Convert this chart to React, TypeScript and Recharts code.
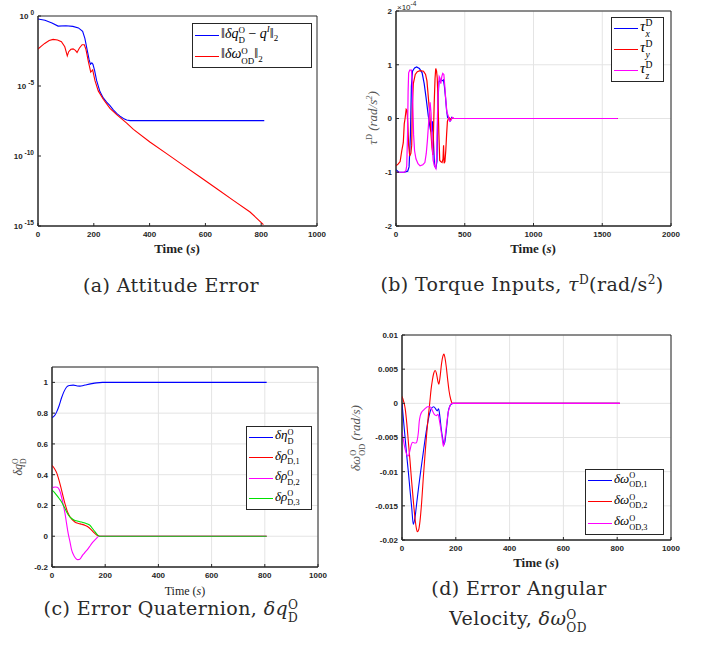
import React from "react";
import { LineChart, Line, XAxis, YAxis, CartesianGrid, ReferenceArea } from "recharts";

const SERIF = '"Liberation Serif", "DejaVu Serif", serif';
const CAP = '"DejaVu Serif", "Liberation Serif", serif';
const SANS = '"Liberation Sans", Arial, sans-serif';
const AXIS = "#262626";
const GRID = "#e4e4e4";
const BLUE = "#0000ff";
const RED = "#ff0000";
const MAG = "#ff00ff";
const GREEN = "#00e000";
// frame letters (calligraphic O and D in the original)
const FO = "O";
const FD = "D";

type Pt = [number, number];

// (a) attitude error, log10 of the norms
const errQLog: Pt[] = [
  [0, -0.21], [25, -0.3], [50, -0.5], [72, -0.72], [100, -0.7], [125, -0.74], [145, -0.85],
  [160, -1.1], [168, -1.6], [176, -2.4], [183, -3.1], [188, -3.45], [193, -3.35], [197, -3.45],
  [203, -3.9], [210, -4.6], [222, -5.4], [234, -5.85], [246, -6.15], [258, -6.4], [270, -6.7],
  [282, -6.95], [294, -7.15], [306, -7.32], [318, -7.43], [330, -7.47], [811, -7.47],
];
const errWLog: Pt[] = [
  [0, -2.36], [12, -2.15], [24, -1.96], [40, -1.75], [54, -1.67], [70, -1.72], [84, -1.84],
  [96, -2.2], [105, -2.85], [110, -2.55], [118, -2.38], [126, -2.35], [134, -2.45], [140, -2.6],
  [148, -2.3], [158, -2.05], [166, -2.05], [172, -2.4], [180, -3.2], [189, -4.0], [196, -3.85],
  [204, -4.6], [216, -5.35], [234, -5.95], [258, -6.6], [282, -7.05], [318, -7.65], [342, -8.1],
  [401, -9.0], [461, -9.83], [521, -10.67], [581, -11.5], [641, -12.34], [700, -13.17],
  [760, -14.0], [808, -14.9],
];
const logTicks = [1e-15, 1e-10, 1e-5, 1];
const timeTicksA = [0, 200, 400, 600, 800, 1000];

// (b) torque inputs, units of 1e-4 rad/s^2
const tauX: Pt[] = [
  [0, -0.95], [20, -1.0], [60, -1.0], [85, -0.98], [95, -0.9], [105, -0.3], [112, 0.6], [120, 0.88],
  [135, 0.94], [150, 0.96], [170, 0.93], [190, 0.85], [205, 0.65], [218, 0.4], [235, 0.05],
  [250, -0.2], [258, -0.25], [265, -0.05], [272, -0.4], [280, -0.88], [290, -0.92], [298, -0.8],
  [305, 0.3], [312, 0.68], [322, 0.72], [335, 0.7], [345, 0.72], [352, 0.6], [360, 0.4],
  [368, 0.15], [375, 0.02], [385, 0.0], [395, -0.04], [405, 0.02], [420, 0], [1612, 0],
];
const tauY: Pt[] = [
  [0, -0.88], [15, -0.85], [30, -0.8], [42, -0.6], [53, -0.45], [60, -0.1], [66, 0.0], [74, 0.17],
  [80, 0.15], [86, -0.1], [92, -0.5], [100, -0.7], [108, -0.65], [114, -0.5], [120, 0.3],
  [126, 0.65], [140, 0.82], [155, 0.87], [175, 0.89], [200, 0.88], [215, 0.82], [225, 0.7],
  [235, 0.4], [245, 0.1], [255, -0.3], [262, -0.55], [268, -0.68], [272, -0.3], [278, 0.3],
  [284, 0.75], [289, 0.93], [295, 0.88], [300, 0.75], [306, 0.3], [312, -0.3], [318, -0.78],
  [325, -0.8], [335, -0.82], [342, -0.75], [346, -0.5], [350, -0.83], [356, -0.8], [362, -0.6],
  [368, -0.3], [374, -0.05], [385, 0.02], [400, -0.02], [410, 0.01], [420, 0], [1612, 0],
];
const tauZ: Pt[] = [
  [0, -1.0], [30, -1.0], [60, -1.0], [72, -0.97], [78, -0.88], [84, -0.3], [88, 0.5], [92, 0.85],
  [100, 0.9], [112, 0.9], [118, 0.7], [123, 0.2], [128, -0.3], [135, -0.6], [145, -0.75],
  [160, -0.84], [175, -0.88], [195, -0.86], [210, -0.82], [220, -0.65], [228, -0.42], [238, -0.05],
  [248, 0.3], [255, 0.1], [262, -0.4], [270, -0.78], [280, -0.88], [290, -0.93], [296, -0.7],
  [302, 0.1], [308, 0.55], [314, 0.78], [320, 0.75], [326, 0.65], [333, 0.78], [340, 0.84],
  [348, 0.82], [355, 0.6], [362, 0.35], [370, 0.12], [380, 0.05], [390, -0.05], [400, -0.03],
  [410, 0.02], [420, 0], [1612, 0],
];
const tauTicks = [-2, -1, 0, 1, 2];
const timeTicksB = [0, 500, 1000, 1500, 2000];

// (c) error quaternion
const eta: Pt[] = [
  [0, 0.77], [10, 0.785], [18, 0.81], [27, 0.85], [36, 0.9], [45, 0.94], [55, 0.97], [65, 0.98],
  [80, 0.982], [95, 0.977], [105, 0.976], [118, 0.98], [130, 0.985], [150, 0.992], [168, 0.997],
  [190, 1.0], [807, 1.0],
];
const rho1: Pt[] = [
  [0, 0.46], [9, 0.44], [18, 0.41], [27, 0.36], [36, 0.3], [49, 0.21], [58, 0.16], [68, 0.125],
  [86, 0.093], [100, 0.083], [111, 0.078], [125, 0.07], [136, 0.06], [146, 0.045], [155, 0.028],
  [168, 0.008], [180, 0], [807, 0],
];
const rho2: Pt[] = [
  [0, 0.31], [6, 0.318], [12, 0.32], [20, 0.318], [28, 0.3], [36, 0.255], [44, 0.19], [49, 0.147],
  [55, 0.08], [61, 0.017], [68, -0.04], [74, -0.091], [82, -0.125], [90, -0.145], [97, -0.152],
  [103, -0.151], [109, -0.14], [115, -0.123], [124, -0.105], [133, -0.087], [141, -0.068],
  [149, -0.048], [158, -0.03], [166, -0.015], [177, 0], [807, 0],
];
const rho3: Pt[] = [
  [0, 0.3], [9, 0.285], [18, 0.266], [27, 0.245], [36, 0.223], [46, 0.19], [55, 0.158], [65, 0.13],
  [74, 0.115], [86, 0.103], [99, 0.097], [111, 0.092], [124, 0.086], [134, 0.08], [143, 0.071],
  [152, 0.05], [162, 0.028], [170, 0.01], [178, 0], [807, 0],
];
const quatTicks = [-0.2, 0, 0.2, 0.4, 0.6, 0.8, 1];

// (d) error angular velocity, rad/s
const w1: Pt[] = [
  [0, 0], [5, -0.0022], [11, -0.0048], [17, -0.0074], [24, -0.0102], [30, -0.0128], [36, -0.0152],
  [42, -0.0177], [48, -0.0168], [55, -0.0145], [62, -0.0122], [70, -0.0098], [78, -0.0075],
  [86, -0.0052], [94, -0.0032], [102, -0.0016], [110, -0.0007], [118, -0.0005], [125, -0.0008],
  [131, -0.0011], [136, -0.0008], [141, -0.002], [146, -0.0038], [151, -0.0051], [156, -0.006],
  [160, -0.0055], [164, -0.0042], [168, -0.0027], [172, -0.0012], [177, -0.0005], [181, -0.0002],
  [191, 0], [810, 0],
];
const w2: Pt[] = [
  [0, 0.001], [6, 0.0003], [12, -0.0008], [18, -0.003], [24, -0.0058], [30, -0.0085],
  [36, -0.0115], [42, -0.0142], [48, -0.0167], [53, -0.0182], [57, -0.0188], [62, -0.0185],
  [67, -0.0172], [73, -0.0145], [79, -0.011], [85, -0.0078], [91, -0.0048], [97, -0.0022],
  [103, 0], [108, 0.002], [113, 0.0034], [118, 0.0044], [123, 0.0048], [128, 0.0044],
  [133, 0.0033], [137, 0.0028], [141, 0.0037], [147, 0.0058], [152, 0.0069], [156, 0.0072],
  [160, 0.0066], [165, 0.0052], [170, 0.0034], [175, 0.0018], [181, 0.0006], [188, 0], [810, 0],
];
const w3: Pt[] = [
  [0, -0.0042], [5, -0.0053], [10, -0.0064], [16, -0.0073], [20, -0.0077], [25, -0.0076],
  [30, -0.0068], [35, -0.006], [40, -0.0057], [46, -0.0058], [52, -0.0058], [57, -0.0053],
  [61, -0.0042], [64, -0.0027], [68, -0.0018], [73, -0.0013], [80, -0.001], [88, -0.0007],
  [95, -0.0005], [104, -0.0005], [110, -0.0008], [116, -0.0013], [122, -0.0017], [128, -0.0018],
  [134, -0.0016], [139, -0.0025], [144, -0.0037], [149, -0.005], [154, -0.0063], [157, -0.0058],
  [162, -0.0043], [167, -0.0027], [172, -0.0013], [178, -0.0004], [185, 0], [810, 0],
];
const omegaTicks = [-0.02, -0.015, -0.01, -0.005, 0, 0.005, 0.01];

const pts = (a: Pt[]) => a.map(([t, v]) => ({ t, v }));
const logPts = (a: Pt[]) => a.map(([t, e]) => ({ t, v: Math.pow(10, e) }));

const tickStyle = { fontSize: 8, fontWeight: 700, fontFamily: SANS, fill: AXIS };

const LogTick = (props: any) => {
  const { x, y, payload } = props;
  const e = Math.round(Math.log10(payload.value));
  return (
    <text x={x} y={y} dy={3} textAnchor="end" fontSize={8} fontWeight={700} fontFamily={SANS} fill={AXIS}>
      10
      <tspan dx={2} dy={-4} fontSize={6.5}>
        {e}
      </tspan>
    </text>
  );
};

// stacked superscript / subscript
const SS = ({ sup, sub }: { sup: React.ReactNode; sub: React.ReactNode }) => (
  <span
    style={{
      display: "inline-flex",
      flexDirection: "column",
      fontSize: "0.64em",
      lineHeight: 1.05,
      verticalAlign: "0.5em",
      fontStyle: "normal",
    }}
  >
    <span>{sup}</span>
    <span>{sub}</span>
  </span>
);

const Txt = ({ x, y, rotate = 0, style, children }: any) => (
  <div
    style={{
      position: "absolute",
      left: x,
      top: y,
      transform: `translate(-50%, -50%) rotate(${rotate}deg)`,
      whiteSpace: "nowrap",
      ...style,
    }}
  >
    {children}
  </div>
);

const LegendBox = ({ x, y, w, h, rows, fontSize }: any) => (
  <div
    style={{
      position: "absolute",
      left: x,
      top: y,
      width: w,
      height: h,
      boxSizing: "border-box",
      border: `1px solid ${AXIS}`,
      background: "#fff",
      display: "flex",
      flexDirection: "column",
      justifyContent: "space-around",
      padding: "0 2px",
      fontFamily: SERIF,
      fontSize,
      color: "#000",
    }}
  >
    {rows.map((r: any, i: number) => (
      <div key={i} style={{ display: "flex", alignItems: "center", gap: 2, lineHeight: 1 }}>
        <div style={{ width: 24, flex: "none", borderTop: `1px solid ${r.color}` }} />
        <span style={{ whiteSpace: "nowrap" }}>{r.label}</span>
      </div>
    ))}
  </div>
);

const timeLabel = (
  <>
    Time (<i>s</i>)
  </>
);

const seriesA = [
  {
    data: errQLog,
    color: BLUE,
    label: (
      <>
        ‖<i>δq</i>
        <SS sup={FO} sub={FD} /> − <i>q</i>
        <sup style={{ fontSize: "0.64em" }}>
          <i>I</i>
        </sup>
        ‖<sub style={{ fontSize: "0.64em" }}>2</sub>
      </>
    ),
  },
  {
    data: errWLog,
    color: RED,
    label: (
      <>
        ‖<i>δω</i>
        <SS sup={FO} sub={FO + FD} />‖<sub style={{ fontSize: "0.64em" }}>2</sub>
      </>
    ),
  },
];

const seriesB = [
  { data: tauX, color: BLUE, label: <><i>τ</i><SS sup={FD} sub={<i>x</i>} /></> },
  { data: tauY, color: RED, label: <><i>τ</i><SS sup={FD} sub={<i>y</i>} /></> },
  { data: tauZ, color: MAG, label: <><i>τ</i><SS sup={FD} sub={<i>z</i>} /></> },
];

const seriesC = [
  { data: eta, color: BLUE, label: <><i>δη</i><SS sup={FO} sub={FD} /></> },
  { data: rho1, color: RED, label: <><i>δρ</i><SS sup={FO} sub={FD + ",1"} /></> },
  { data: rho2, color: MAG, label: <><i>δρ</i><SS sup={FO} sub={FD + ",2"} /></> },
  { data: rho3, color: GREEN, label: <><i>δρ</i><SS sup={FO} sub={FD + ",3"} /></> },
];

const seriesD = [
  { data: w1, color: BLUE, label: <><i>δω</i><SS sup={FO} sub={FO + FD + ",1"} /></> },
  { data: w2, color: RED, label: <><i>δω</i><SS sup={FO} sub={FO + FD + ",2"} /></> },
  { data: w3, color: MAG, label: <><i>δω</i><SS sup={FO} sub={FO + FD + ",3"} /></> },
];

const xAxisProps = {
  type: "number" as const,
  dataKey: "t",
  tick: tickStyle,
  tickSize: -3,
  tickMargin: 8,
  height: 20,
  stroke: AXIS,
  allowDataOverflow: true,
  interval: 0 as const,
};

const yAxisProps = {
  type: "number" as const,
  tick: tickStyle,
  tickSize: -3,
  tickMargin: 7,
  stroke: AXIS,
  allowDataOverflow: true,
  interval: 0 as const,
};

const fmtNum = (v: number) => String(Math.round(v * 1000) / 1000);

const capStyle = { fontFamily: CAP, fontSize: 19, letterSpacing: 0.4, color: "#2a2a2a" };

const App = () => {
  return (
    <div
      style={{
        position: "absolute",
        left: 0,
        top: 0,
        width: 702,
        height: 646,
        background: "#fff",
        fontFamily: SERIF,
        color: "#222",
        overflow: "hidden",
      }}
    >
      {/* (a) attitude error */}
      <div style={{ position: "absolute", left: 0, top: 0 }}>
        <LineChart width={330} height={250} margin={{ top: 16, right: 13, bottom: 4, left: 0 }}>
          <XAxis {...xAxisProps} domain={[0, 1000]} ticks={timeTicksA} />
          <YAxis
            {...yAxisProps}
            dataKey="v"
            scale="log"
            domain={[1e-15, 1]}
            ticks={logTicks}
            width={38}
            tick={<LogTick />}
          />
          <ReferenceArea x1={0} x2={1000} y1={1e-15} y2={1} fill="none" stroke={AXIS} strokeWidth={1} />
          {seriesA.map((s, i) => (
            <Line
              key={i}
              data={logPts(s.data)}
              dataKey="v"
              stroke={s.color}
              strokeWidth={1.1}
              dot={false}
              isAnimationActive={false}
              type="linear"
            />
          ))}
        </LineChart>
      </div>
      <LegendBox x={192} y={23} w={120} h={45} rows={seriesA} fontSize={14} />
      <Txt x={177} y={249} style={{ fontSize: 13, fontWeight: 700 }}>
        {timeLabel}
      </Txt>
      <Txt x={171} y={285} style={capStyle}>
        (a) Attitude Error
      </Txt>

      {/* (b) torque inputs */}
      <div style={{ position: "absolute", left: 350, top: 0 }}>
        <LineChart width={340} height={250} margin={{ top: 11, right: 19, bottom: 4, left: 0 }}>
          <CartesianGrid stroke={GRID} />
          <XAxis {...xAxisProps} domain={[0, 2000]} ticks={timeTicksB} />
          <YAxis {...yAxisProps} dataKey="v" domain={[-2, 2]} ticks={tauTicks} width={46} />
          <ReferenceArea x1={0} x2={2000} y1={-2} y2={2} fill="none" stroke={AXIS} strokeWidth={1} />
          {seriesB.map((s, i) => (
            <Line
              key={i}
              data={pts(s.data)}
              dataKey="v"
              stroke={s.color}
              strokeWidth={1.2}
              dot={false}
              isAnimationActive={false}
              type="linear"
            />
          ))}
        </LineChart>
      </div>
      <div
        style={{ position: "absolute", left: 397, top: 0, fontSize: 8, fontFamily: SANS, color: AXIS }}
      >
        ×10<sup style={{ fontSize: 6.5 }}>-4</sup>
      </div>
      <LegendBox x={611} y={17} w={53} h={65} rows={seriesB} fontSize={15} />
      <Txt x={373} y={118} rotate={-90} style={{ fontSize: 13, color: "#555" }}>
        <i>τ</i>
        <sup style={{ fontSize: "0.64em" }}>{FD}</sup> <i>(rad/s</i>
        <sup style={{ fontSize: "0.64em" }}>
          <i>2</i>
        </sup>
        <i>)</i>
      </Txt>
      <Txt x={533} y={249} style={{ fontSize: 13, fontWeight: 700 }}>
        {timeLabel}
      </Txt>
      <Txt x={522} y={284} style={capStyle}>
        (b) Torque Inputs, <i>τ</i>
        <sup style={{ fontSize: "0.64em" }}>{FD}</sup>(rad/s<sup style={{ fontSize: "0.64em" }}>2</sup>)
      </Txt>

      {/* (c) error quaternion */}
      <div style={{ position: "absolute", left: 0, top: 340 }}>
        <LineChart width={330} height={250} margin={{ top: 27, right: 12, bottom: 3, left: 0 }}>
          <CartesianGrid stroke={GRID} />
          <XAxis {...xAxisProps} domain={[0, 1000]} ticks={timeTicksA} />
          <YAxis
            {...yAxisProps}
            dataKey="v"
            domain={[-0.2, 1.1]}
            ticks={quatTicks}
            width={52}
            tickFormatter={fmtNum}
          />
          <ReferenceArea x1={0} x2={1000} y1={-0.2} y2={1.1} fill="none" stroke={AXIS} strokeWidth={1} />
          {seriesC.map((s, i) => (
            <Line
              key={i}
              data={pts(s.data)}
              dataKey="v"
              stroke={s.color}
              strokeWidth={1.1}
              dot={false}
              isAnimationActive={false}
              type="monotone"
            />
          ))}
        </LineChart>
      </div>
      <LegendBox x={246} y={426} w={66} h={84} rows={seriesC} fontSize={13} />
      <Txt x={20} y={467} rotate={-90} style={{ fontSize: 12, color: "#444" }}>
        <i>δq</i>
        <SS sup={FO} sub={FD} />
      </Txt>
      <Txt x={185} y={591} style={{ fontSize: 12 }}>
        {timeLabel}
      </Txt>
      <Txt x={171} y={611} style={capStyle}>
        (c) Error Quaternion, <i>δq</i>
        <SS sup={FO} sub={FD} />
      </Txt>

      {/* (d) error angular velocity */}
      <div style={{ position: "absolute", left: 350, top: 320 }}>
        <LineChart width={340} height={240} margin={{ top: 15, right: 19, bottom: 0, left: 0 }}>
          <CartesianGrid stroke={GRID} />
          <XAxis {...xAxisProps} domain={[0, 1000]} ticks={timeTicksA} />
          <YAxis
            {...yAxisProps}
            dataKey="v"
            domain={[-0.02, 0.01]}
            ticks={omegaTicks}
            width={52}
            tickFormatter={fmtNum}
          />
          <ReferenceArea x1={0} x2={1000} y1={-0.02} y2={0.01} fill="none" stroke={AXIS} strokeWidth={1} />
          {seriesD.map((s, i) => (
            <Line
              key={i}
              data={pts(s.data)}
              dataKey="v"
              stroke={s.color}
              strokeWidth={1.1}
              dot={false}
              isAnimationActive={false}
              type="monotone"
            />
          ))}
        </LineChart>
      </div>
      <LegendBox x={585} y={469} w={79} h={66} rows={seriesD} fontSize={13} />
      <Txt x={358} y={438} rotate={-90} style={{ fontSize: 13, color: "#555" }}>
        <i>δω</i>
        <SS sup={FO} sub={FO + FD} /> <i>(rad/s)</i>
      </Txt>
      <Txt x={536} y={563} style={{ fontSize: 13, fontWeight: 700 }}>
        {timeLabel}
      </Txt>
      <Txt x={519} y={588} style={capStyle}>
        (d) Error Angular
      </Txt>
      <Txt x={518} y={621} style={capStyle}>
        Velocity, <i>δω</i>
        <SS sup={FO} sub={FO + FD} />
      </Txt>
    </div>
  );
};

export default App;
